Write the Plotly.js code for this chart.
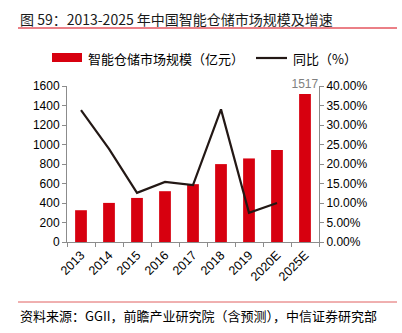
<!DOCTYPE html>
<html><head><meta charset="utf-8">
<script src="https://cdn.plot.ly/plotly-3.0.1.min.js"></script>
<style>html,body{margin:0;padding:0;background:#fff}#c{width:402px;height:333px}</style>
</head><body><div id="c"></div>
<script>
const categories = ['2013','2014','2015','2016','2017','2018','2019','2020E','2025E'];
const marketSize = [326, 401, 452, 521, 593, 799, 857, 943, 1517];
const yoyGrowth = [33.8, 23.9, 12.6, 15.4, 14.6, 34.0, 7.5, 10.0, null];
const leftTicks = [0,200,400,600,800,1000,1200,1400,1600];
const rightTicks = [0,5,10,15,20,25,30,35,40];

const W = 402, H = 333;
const L = 67, R = 83, T = 86, B = 91;
const px = x => (x - L) / (W - L - R);
const py = y => (H - B - y) / (H - T - B);
const cjk = '"Noto Sans CJK SC", "Liberation Sans", sans-serif';
const num = '"Liberation Sans", Arial, sans-serif';

const traces = [
  {type:'bar', x:categories, y:marketSize, name:'智能仓储市场规模（亿元）',
   marker:{color:'#D7000F'}, yaxis:'y',
   text: marketSize.map((v,i)=> i===marketSize.length-1 ? String(v) : ''),
   textposition:'outside', cliponaxis:false, constraintext:'none',
   textfont:{family:num, size:12, color:'#7f7f7f'}},
  {type:'scatter', mode:'lines', x:categories, y:yoyGrowth, name:'同比（%）',
   line:{color:'#231815', width:2.2}, yaxis:'y2'}
];

const layout = {
  width:W, height:H, margin:{l:L, r:R, t:T, b:B},
  paper_bgcolor:'#fff', plot_bgcolor:'#fff',
  bargap:0.58, showlegend:false,
  xaxis:{type:'category', tickangle:-45, tickfont:{family:num, size:12.5, color:'#000'},
    showline:true, linecolor:'#8c8c8c', linewidth:1, ticks:'outside', ticklen:4,
    tickcolor:'#8c8c8c', tickson:'boundaries', showgrid:false, zeroline:false},
  yaxis:{range:[0,1600], tickvals:leftTicks, ticktext:leftTicks.map(String),
    tickfont:{family:num, size:12, color:'#000'}, showline:true, linecolor:'#8c8c8c',
    ticks:'outside', ticklen:4, tickcolor:'#8c8c8c', showgrid:false, zeroline:false},
  yaxis2:{range:[0,40], overlaying:'y', side:'right', tickvals:rightTicks,
    ticktext:rightTicks.map(v=>v.toFixed(2)+'%'),
    tickfont:{family:num, size:12, color:'#000'}, showline:true, linecolor:'#8c8c8c',
    ticks:'outside', ticklen:4, tickcolor:'#8c8c8c', showgrid:false, zeroline:false},
  shapes:[
    {type:'line', xref:'paper', yref:'paper', x0:px(18), x1:px(397), y0:py(28), y1:py(28), line:{color:'#D7000F', width:1}},
    {type:'line', xref:'paper', yref:'paper', x0:px(18), x1:px(397), y0:py(302), y1:py(302), line:{color:'#E06060', width:1}},
    {type:'rect', xref:'paper', yref:'paper', x0:px(52), x1:px(82), y0:py(62), y1:py(53), fillcolor:'#D7000F', line:{width:0}},
    {type:'line', xref:'paper', yref:'paper', x0:px(256), x1:px(287), y0:py(58), y1:py(58), line:{color:'#231815', width:2.2}}
  ],
  annotations:[
    {xref:'paper', yref:'paper', x:px(18), y:py(19), xanchor:'left', yanchor:'middle', showarrow:false,
     text:'图 59：2013-2025 年中国智能仓储市场规模及增速', font:{family:cjk, size:14, color:'#1a1a1a'}},
    {xref:'paper', yref:'paper', x:px(86), y:py(58), xanchor:'left', yanchor:'middle', showarrow:false,
     text:'智能仓储市场规模（亿元）', font:{family:cjk, size:13, color:'#000'}},
    {xref:'paper', yref:'paper', x:px(291), y:py(58), xanchor:'left', yanchor:'middle', showarrow:false,
     text:'同比（%）', font:{family:cjk, size:13, color:'#000'}},
    {xref:'paper', yref:'paper', x:px(18), y:py(315), xanchor:'left', yanchor:'middle', showarrow:false,
     text:'资料来源：GGII，前瞻产业研究院（含预测），中信证券研究部', font:{family:cjk, size:13, color:'#000'}}
  ]
};
Plotly.newPlot('c', traces, layout, {staticPlot:true, displayModeBar:false});
</script></body></html>
